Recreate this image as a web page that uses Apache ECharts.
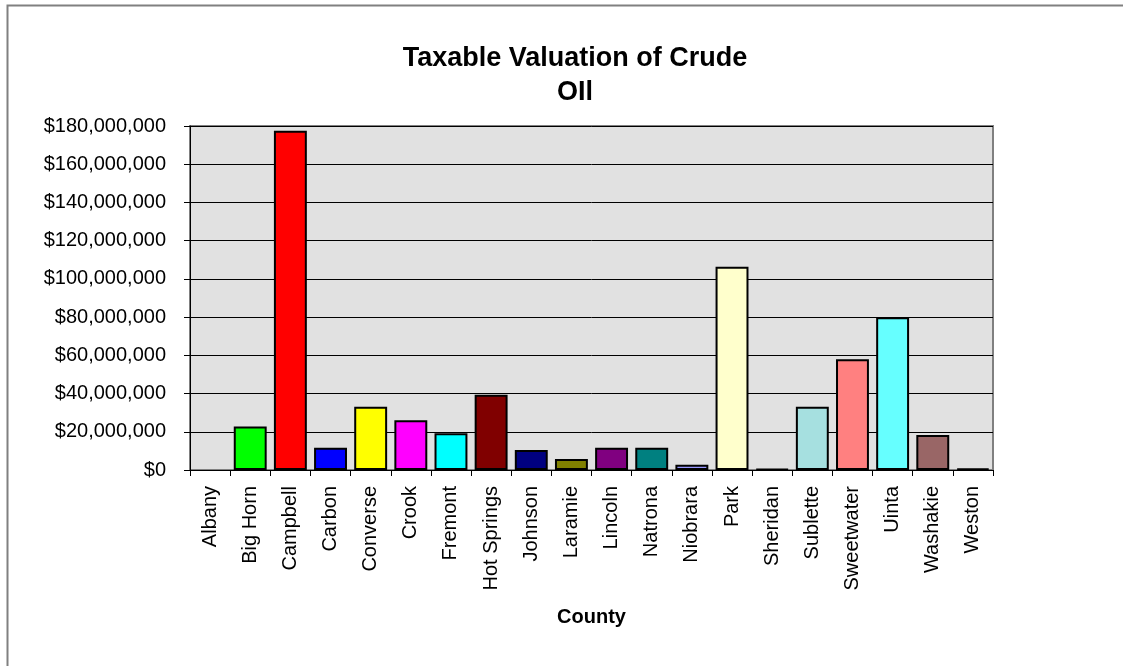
<!DOCTYPE html>
<html>
<head>
<meta charset="utf-8">
<script src="https://cdn.jsdelivr.net/npm/echarts@6/dist/echarts.min.js"></script>
<style>html,body{margin:0;padding:0;background:#fff}#c{width:1123px;height:666px}</style>
</head>
<body>
<div id="c"></div>
<script>
const counties = ["Albany","Big Horn","Campbell","Carbon","Converse","Crook","Fremont","Hot Springs","Johnson","Laramie","Lincoln","Natrona","Niobrara","Park","Sheridan","Sublette","Sweetwater","Uinta","Washakie","Weston"];
const valuations = [0, 22700000, 177500000, 11700000, 33100000, 26000000, 19200000, 39400000, 10500000, 5800000, 11700000, 11700000, 2800000, 106400000, 500000, 33100000, 57900000, 79900000, 18300000, 700000];
const barColors = ["#C0C0C0","#00FF00","#FF0000","#0000FF","#FFFF00","#FF00FF","#00FFFF","#800000","#000080","#808000","#800080","#008080","#9999FF","#FFFFCC","#333333","#A6E0E0","#FF8080","#66FFFF","#996666","#333333"];
const yTicks = [0, 20000000, 40000000, 60000000, 80000000, 100000000, 120000000, 140000000, 160000000, 180000000];

const fmt = v => '$' + v.toLocaleString('en-US');
const font = '"Liberation Sans", Arial, sans-serif';

const chart = echarts.init(document.getElementById('c'), null, {renderer: 'canvas'});
chart.setOption({
  animation: false,
  backgroundColor: '#fff',
  graphic: [{
    type: 'rect', left: 5, top: 3, shape: {width: 1130, height: 700},
    style: {fill: 'none', stroke: '#808080', lineWidth: 2}, silent: true
  }],
  title: {
    text: 'Taxable Valuation of Crude\nOIl',
    left: 570, top: 37, textAlign: 'center',
    textStyle: {fontFamily: font, fontSize: 27, fontWeight: 'bold', color: '#000', lineHeight: 34}
  },
  grid: {left: 190, right: 130, top: 126, bottom: 196, show: true, backgroundColor: '#E1E1E1', borderColor: '#808080', borderWidth: 2},
  xAxis: {
    type: 'category', data: counties,
    name: 'County', nameLocation: 'middle', nameGap: 137,
    nameTextStyle: {fontFamily: font, fontSize: 20, fontWeight: 'bold', color: '#000'},
    axisLine: {lineStyle: {color: '#000', width: 1}},
    axisTick: {show: true, length: 6, lineStyle: {color: '#000'}},
    axisLabel: {rotate: 90, margin: 16, fontFamily: font, fontSize: 20, color: '#000', interval: 0}
  },
  yAxis: {
    type: 'value', min: yTicks[0], max: yTicks[yTicks.length - 1], interval: yTicks[1] - yTicks[0],
    axisLine: {show: true, lineStyle: {color: '#000', width: 1}},
    axisTick: {show: true, length: 6, lineStyle: {color: '#000'}},
    axisLabel: {margin: 24, fontFamily: font, fontSize: 20, color: '#000', formatter: fmt},
    splitLine: {lineStyle: {color: '#000', width: 1}}
  },
  series: [{
    type: 'bar',
    barCategoryGap: '18%',
    data: valuations.map((v, i) => ({value: v, itemStyle: {color: barColors[i], borderWidth: v > 0 ? 2 : 0}})),
    itemStyle: {borderColor: '#000', borderWidth: 2}
  }]
});
</script>
</body>
</html>
